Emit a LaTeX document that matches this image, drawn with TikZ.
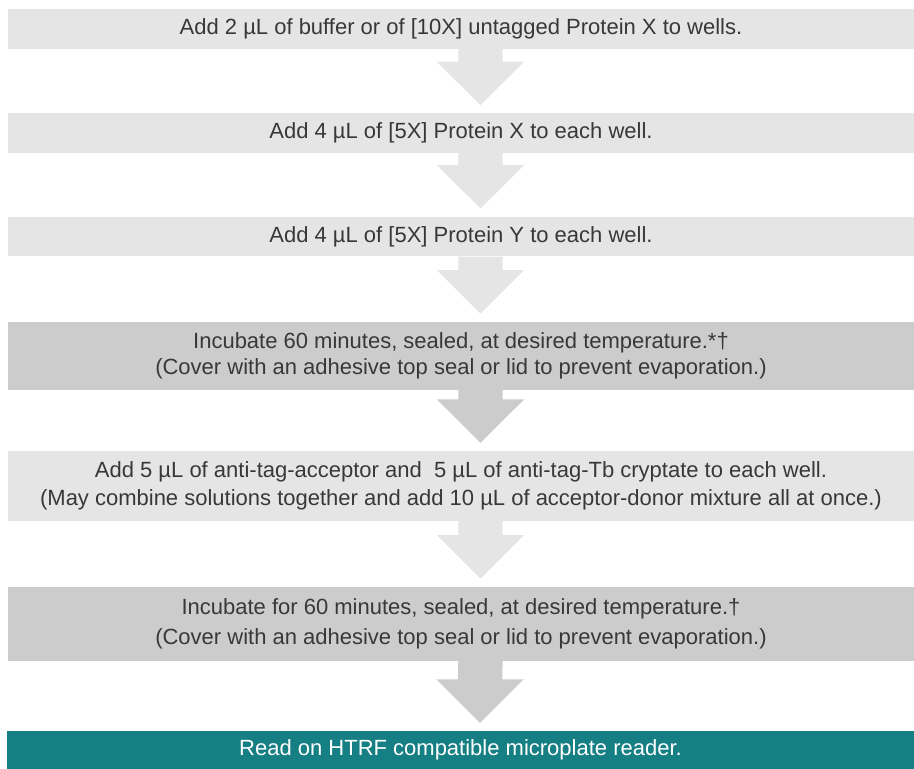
\documentclass[tikz,border=0pt]{standalone}
\usepackage{fontspec}
\setmainfont{Liberation Sans}
\usetikzlibrary{calc}
\definecolor{boxlight}{HTML}{E5E5E5}
\definecolor{boxdark}{HTML}{CCCCCC}
\definecolor{boxteal}{HTML}{167F84}
\definecolor{txtgray}{HTML}{383838}

\begin{document}
\begin{tikzpicture}[
    x=1pt, y=1pt,
    stepbox/.style={minimum width=906pt,inner sep=0pt,align=center,
      text=txtgray,font=\fontsize{22}{26}\selectfont},
    lightbox/.style={stepbox,fill=boxlight},
    darkbox/.style={stepbox,fill=boxdark},
  ]
  \useasboundingbox (0,0) rectangle (914,769);

  \node[lightbox,minimum height=39.7pt] (b1) at (461,739.8)
    {Add 2 µL of buffer or of [10X] untagged Protein X to wells.};
  \node[lightbox,minimum height=39.7pt] (b2) at (461,635.8)
    {Add 4 µL of [5X] Protein X to each well.};
  \node[lightbox,minimum height=39.7pt] (b3) at (461,532.5)
    {Add 4 µL of [5X] Protein Y to each well.};
  \node[darkbox,minimum height=68.3pt] (b4) at (461,413.1)
    {Incubate 60 minutes, sealed, at desired temperature.*†\\
     (Cover with an adhesive top seal or lid to prevent evaporation.)};
  \node[lightbox,minimum height=69.7pt] (b5) at (461,283.1)
    {Add 5 µL of anti-tag-acceptor and \ 5 µL of anti-tag-Tb cryptate to each well.\\[2pt]
     (May combine solutions together and add 10 µL of acceptor-donor mixture all at once.)};
  \node[darkbox,minimum height=74.3pt] (b6) at (461,145.1)
    {Incubate for 60 minutes, sealed, at desired temperature.†\\[4pt]
     (Cover with an adhesive top seal or lid to prevent evaporation.)};
  \node[stepbox,fill=boxteal,text=white,minimum width=907pt,minimum height=38pt] (b7) at (460.5,19)
    {Read on HTRF compatible microplate reader.};

  % block arrows between the steps
  \foreach \a/\b/\c in {b1/b2/boxlight,b2/b3/boxlight,b3/b4/boxlight,
                        b4/b5/boxdark,b5/b6/boxlight,b6/b7/boxdark} {
    \coordinate (top) at ($(\a.south)+(19.5,0)$);
    \coordinate (tip) at ($(\b.north)+(19.5,8)$);
    \fill[\c] ($(top)+(-22.2,0)$) -- ($(tip)+(-22.2,43.5)$) -- ($(tip)+(-43.7,43.5)$)
      -- (tip) -- ($(tip)+(43.7,43.5)$) -- ($(tip)+(22.2,43.5)$) -- ($(top)+(22.2,0)$) -- cycle;
  }
\end{tikzpicture}
\end{document}
